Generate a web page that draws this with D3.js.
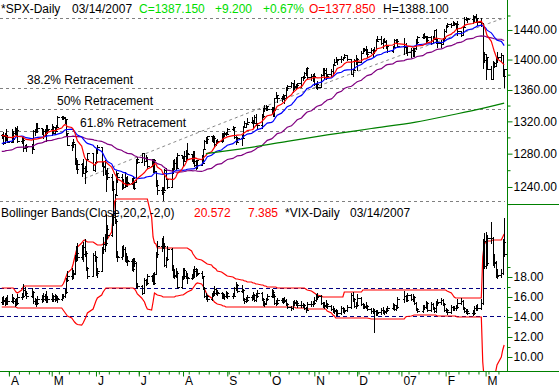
<!DOCTYPE html>
<html>
<head>
<meta charset="utf-8">
<script src="https://cdn.jsdelivr.net/npm/d3@7"></script>
<style>
  body { margin: 0; background: #fff; }
  svg { display: block; font-family: Arial, "Liberation Sans", sans-serif; font-size: 12px; }
</style>
</head>
<body>
<svg width="559" height="389"></svg>
<script>
// trading days: weekdays between the two dates, minus market holidays
const firstDay = "2006-03-27", lastDay = "2007-03-14";
const holidays = ["2006-04-14","2006-05-29","2006-07-04","2006-09-04","2006-11-23","2006-12-25","2007-01-01","2007-01-02","2007-01-15","2007-02-19"];

// SPX closes before the visible window (only feed the moving averages)
const spxPrior = [1287.6,1282.9,1277.9,1285.0,1261.5,1263.8,1266.9,1264.7,1273.8,1283.7,1285.2,1280.1,
  1282.5,1270.8,1264.0,1265.0,1254.8,1265.7,1263.8,1267.0,1262.9,1275.5,1280.0,1289.4,1287.2,1283.0,1292.7,1287.8,1289.4,1294.1,1280.7,
  1291.2,1289.1,1287.2,1278.3,1275.9,1278.5,1272.2,1281.4,1284.1,1297.5,1303.0,1305.3,1307.3,1305.1,1297.2,1305.0,1301.7,1302.95];

const spxOpen = [1302.9,1301.6,1293.2,1302.9,1300.3,1294.9,1297.8,1305.9,1311.6,1309.0,
  1295.5,1296.6,1286.6,1288.1,1289.1,1285.3,1307.3,1309.9,1311.5,1311.3,
  1308.1,1301.7,1305.4,1309.7,1310.6,1305.2,1313.2,1308.1,1312.3,1325.8,
  1324.7,1325.1,1322.9,1305.9,1291.2,1294.5,1292.1,1270.3,1261.8,1267.0,
  1262.1,1256.6,1258.6,1272.9,1280.2,1259.9,1270.1,1285.7,1288.2,1265.3,
  1263.9,1257.9,1256.2,1252.3,1237.4,1223.7,1230.0,1256.2,1251.5,1240.1,
  1240.1,1252.2,1245.6,1244.5,1250.6,1239.2,1246.0,1272.9,1270.2,1280.2,
  1270.9,1274.1,1265.5,1267.3,1272.4,1258.6,1242.3,1236.2,1234.5,1236.9,
  1259.8,1249.1,1240.3,1260.9,1268.9,1268.4,1263.2,1278.6,1276.7,1270.9,
  1277.4,1280.3,1279.4,1275.8,1271.5,1265.9,1271.8,1266.7,1268.2,1285.6,
  1295.4,1297.5,1302.3,1297.5,1298.8,1292.0,1296.1,1295.1,1301.8,1304.3,
  1305.4,1303.8,1311.0,1313.3,1300.3,1294.0,1298.9,1299.5,1313.0,1318.1,
  1316.3,1319.7,1321.2,1317.6,1325.2,1318.0,1314.8,1326.4,1336.4,1336.6,
  1338.9,1335.9,1331.3,1334.1,1350.2,1353.2,1349.6,1350.7,1353.4,1349.9,
  1362.8,1365.6,1369.1,1364.1,1365.8,1366.9,1368.6,1377.0,1377.4,1382.2,
  1389.1,1377.3,1377.9,1377.9,1367.8,1367.3,1364.3,1379.8,1382.8,1385.7,
  1378.3,1380.9,1384.4,1393.2,1396.6,1399.8,1401.2,1400.5,1402.8,1406.1,
  1400.9,1381.4,1386.7,1399.5,1400.6,1396.7,1409.1,1414.8,1412.9,1407.3,
  1409.8,1413.0,1411.6,1413.2,1425.5,1427.1,1422.5,1425.6,1423.5,1418.3,
  1410.8,1416.9,1426.8,1424.7,1418.3,1416.6,1418.3,1409.7,1412.8,1412.1,
  1414.9,1423.8,1430.7,1431.9,1430.6,1426.4,1430.5,1422.9,1427.9,1440.1,
  1423.9,1422.2,1420.6,1428.8,1438.2,1445.9,1448.4,1447.0,1448.0,1450.0,
  1448.3,1438.1,1433.4,1444.3,1455.3,1456.8,1455.5,1459.7,1457.6,1456.4,
  1451.2,1449.4,1399.0,1406.8,1403.2,1387.2,1374.1,1395.4,1392.0,1401.9,
  1402.8,1406.6,1377.85];

const spxHigh = [1303.7,1306.2,1305.6,1310.2,1303.0,1309.9,1307.6,1312.8,1311.9,1314.1,
  1300.7,1300.7,1290.9,1292.1,1292.1,1309.0,1310.4,1318.2,1317.7,1311.3,
  1310.8,1310.9,1315.0,1316.0,1317.2,1313.7,1313.5,1315.1,1326.5,1326.7,
  1326.6,1325.1,1322.9,1305.9,1294.8,1297.9,1292.1,1274.9,1272.2,1268.8,
  1273.7,1264.5,1273.3,1280.5,1280.2,1270.3,1285.7,1290.7,1288.2,1269.9,
  1272.5,1259.9,1262.6,1255.2,1247.1,1231.5,1258.6,1256.3,1255.9,1249.0,
  1257.9,1252.2,1253.1,1250.9,1253.4,1247.1,1272.9,1276.3,1280.4,1280.2,
  1278.3,1275.4,1274.1,1273.3,1273.3,1258.6,1247.7,1240.1,1239.9,1261.8,
  1262.6,1250.0,1262.5,1272.4,1273.9,1275.9,1280.4,1278.6,1276.7,1283.4,
  1283.9,1292.9,1279.4,1282.8,1283.8,1272.5,1271.8,1278.9,1286.2,1296.2,
  1300.8,1302.3,1302.3,1302.5,1301.9,1297.2,1297.6,1305.0,1305.0,1306.7,
  1306.8,1312.0,1314.7,1313.3,1301.2,1300.1,1302.4,1314.3,1319.9,1318.1,
  1324.7,1325.9,1322.0,1328.5,1329.2,1318.0,1329.4,1336.6,1340.1,1340.3,
  1339.2,1338.5,1338.3,1350.2,1357.4,1353.2,1352.7,1354.2,1353.6,1363.8,
  1366.6,1370.2,1369.1,1372.9,1368.1,1368.7,1377.4,1377.8,1383.6,1389.4,
  1389.5,1381.2,1381.2,1381.9,1368.4,1371.7,1381.4,1388.2,1388.6,1388.9,
  1381.3,1387.6,1394.5,1401.4,1403.8,1401.2,1404.4,1403.5,1407.9,1406.1,
  1400.9,1387.6,1401.0,1406.3,1402.5,1411.2,1415.3,1415.9,1418.3,1414.1,
  1415.6,1413.8,1416.6,1427.2,1431.6,1431.8,1428.3,1429.0,1426.4,1418.8,
  1417.9,1427.7,1427.3,1427.0,1429.4,1421.8,1418.3,1415.0,1415.6,1415.0,
  1427.1,1431.2,1433.9,1435.3,1432.0,1431.6,1431.4,1431.3,1440.1,1440.7,
  1427.3,1426.9,1428.8,1441.6,1446.6,1449.3,1449.4,1452.0,1451.6,1450.0,
  1452.9,1439.1,1444.4,1457.7,1458.0,1456.8,1460.5,1459.7,1461.6,1456.4,
  1457.0,1449.4,1409.8,1406.8,1403.2,1391.9,1397.9,1396.3,1402.2,1410.1,
  1409.3,1406.6,1388.1];

const spxLow = [1299.1,1291.8,1293.2,1296.7,1294.1,1294.9,1294.7,1304.8,1302.4,1294.2,
  1293.2,1282.9,1286.5,1283.4,1280.7,1285.3,1302.8,1306.4,1306.6,1303.8,
  1299.2,1301.7,1295.6,1306.2,1303.5,1305.2,1303.9,1307.9,1312.3,1322.9,
  1322.5,1317.4,1303.5,1290.4,1284.5,1288.5,1267.8,1261.8,1256.3,1252.9,
  1256.2,1245.3,1258.4,1272.5,1259.9,1259.4,1269.2,1280.2,1264.9,1254.8,
  1255.8,1235.2,1250.0,1236.4,1219.3,1219.3,1230.0,1246.3,1237.2,1238.9,
  1240.1,1241.4,1241.4,1243.7,1238.9,1237.6,1246.0,1269.0,1270.2,1265.9,
  1270.9,1263.1,1264.5,1257.9,1257.9,1241.4,1231.2,1231.5,1224.5,1236.9,
  1249.1,1238.9,1240.3,1257.2,1261.9,1261.9,1263.2,1274.3,1265.7,1270.9,
  1271.3,1273.8,1271.4,1268.4,1264.7,1261.3,1262.1,1266.7,1268.2,1285.6,
  1292.7,1293.6,1295.5,1294.4,1289.6,1290.9,1293.1,1293.9,1295.3,1302.2,
  1302.4,1303.8,1308.8,1299.3,1292.1,1293.8,1290.9,1299.5,1313.0,1313.3,
  1316.3,1318.1,1312.5,1317.6,1315.4,1310.9,1311.3,1325.3,1333.5,1333.8,
  1333.8,1330.3,1327.1,1327.1,1350.2,1344.2,1346.1,1348.6,1343.4,1349.9,
  1360.5,1364.5,1356.9,1360.9,1360.9,1362.1,1363.6,1372.4,1376.0,1379.5,
  1375.9,1373.5,1372.2,1366.0,1362.2,1360.9,1364.3,1379.2,1375.9,1374.7,
  1375.3,1378.8,1379.1,1393.1,1396.6,1394.6,1397.2,1399.0,1402.3,1399.6,
  1381.4,1377.8,1386.7,1393.8,1385.9,1396.7,1408.8,1411.1,1406.8,1403.7,
  1408.6,1404.8,1408.8,1413.2,1425.5,1420.7,1414.9,1423.0,1415.9,1410.3,
  1410.5,1416.6,1422.1,1418.3,1407.9,1408.4,1405.8,1404.0,1405.4,1405.4,
  1414.8,1422.1,1428.6,1428.6,1424.2,1425.2,1420.4,1421.7,1427.9,1422.3,
  1417.0,1416.8,1420.6,1424.8,1437.9,1444.5,1443.9,1446.4,1446.2,1442.8,
  1433.4,1431.4,1433.2,1443.9,1453.2,1450.5,1449.2,1452.0,1450.5,1447.5,
  1445.5,1389.4,1396.5,1374.8,1386.9,1374.0,1374.1,1390.0,1392.0,1397.3,
  1398.4,1377.7,1364.0];

const spxClose = [1301.6,1293.2,1302.9,1300.3,1294.9,1297.8,1305.9,1311.6,1309.0,1295.5,
  1296.6,1286.6,1288.1,1289.1,1285.3,1307.3,1309.9,1311.5,1311.3,1308.1,
  1301.7,1305.4,1309.7,1310.6,1305.2,1313.2,1308.1,1312.3,1325.8,1324.7,
  1325.1,1322.9,1305.9,1291.2,1294.5,1292.1,1270.3,1261.8,1267.0,1262.1,
  1256.6,1258.6,1272.9,1280.2,1259.9,1270.1,1285.7,1288.2,1265.3,1263.9,
  1257.9,1256.2,1252.3,1237.4,1223.7,1230.0,1256.2,1251.5,1240.1,1240.1,
  1252.2,1245.6,1244.5,1250.6,1239.2,1246.0,1272.9,1270.2,1280.2,1270.9,
  1274.1,1265.5,1267.3,1272.4,1258.6,1242.3,1236.2,1234.5,1236.9,1259.8,
  1249.1,1240.3,1260.9,1268.9,1268.4,1263.2,1278.6,1276.7,1270.9,1277.4,
  1280.3,1279.4,1275.8,1271.5,1265.9,1271.8,1266.7,1268.2,1285.6,1295.4,
  1297.5,1302.3,1297.5,1298.8,1292.0,1296.1,1295.1,1301.8,1304.3,1305.4,
  1303.8,1311.0,1313.3,1300.3,1294.0,1298.9,1299.5,1313.0,1318.1,1316.3,
  1319.7,1321.2,1317.6,1325.2,1318.0,1314.8,1326.4,1336.4,1336.6,1338.9,
  1335.9,1331.3,1334.1,1350.2,1353.2,1349.6,1350.7,1353.4,1349.9,1362.8,
  1365.6,1369.1,1364.1,1365.8,1366.9,1368.6,1377.0,1377.4,1382.2,1389.1,
  1377.3,1377.9,1377.9,1367.8,1367.3,1364.3,1379.8,1382.8,1385.7,1378.3,
  1380.9,1384.4,1393.2,1396.6,1399.8,1401.2,1400.5,1402.8,1406.1,1400.9,
  1381.4,1386.7,1399.5,1400.6,1396.7,1409.1,1414.8,1412.9,1407.3,1409.8,
  1413.0,1411.6,1413.2,1425.5,1427.1,1422.5,1425.6,1423.5,1418.3,1410.8,
  1416.9,1426.8,1424.7,1418.3,1416.6,1418.3,1409.7,1412.8,1412.1,1414.9,
  1423.8,1430.7,1431.9,1430.6,1426.4,1430.5,1422.9,1427.9,1440.1,1423.9,
  1422.2,1420.6,1428.8,1438.2,1445.9,1448.4,1447.0,1448.0,1450.0,1448.3,
  1438.1,1433.4,1444.3,1455.3,1456.8,1455.5,1459.7,1457.6,1456.4,1451.2,
  1449.4,1399.0,1406.8,1403.2,1387.2,1374.1,1395.4,1392.0,1401.9,1402.8,
  1406.6,1378.0,1387.15];

// 200-day average: [bar index, value]
const ma200 = [[100,1280],[120,1287],[140,1295],[160,1303],[180,1311],[200,1319],[216,1328],[230,1336],[242,1343]];

// Fibonacci retracement between these two levels
const fibHigh = 1456.6, fibLow = 1223.6;
const fibRatios = [0, 0.382, 0.5, 0.618, 1];
const fibNames = ["", "38.2% Retracement", "50% Retracement", "61.8% Retracement", ""];
// dashed trend line: two anchor points (date, value)
const trendLine = [["2006-05-24", 1250], ["2007-03-16", 1458]];

// VIX panel, values read against the panel's own axis
const vixOpen = [15.5,15.6,15.7,15.5,15.6,15.6,15.9,15.6,15.4,15.4,
  16.0,16.1,16.7,16.4,16.1,16.5,15.6,15.5,15.4,15.8,
  15.8,16.1,16.1,15.8,15.8,16.1,15.8,16.1,15.9,15.8,
  16.1,16.1,16.5,17.7,18.1,18.3,18.4,19.9,20.4,20.0,
  20.3,21.0,20.4,18.9,18.1,20.2,20.0,18.4,18.6,20.8,
  21.3,21.4,22.8,22.2,24.0,24.4,23.6,20.1,20.0,20.8,
  20.8,19.9,19.7,19.6,18.8,19.6,19.4,17.1,17.1,16.4,
  17.7,17.4,18.1,17.8,17.4,18.3,20.3,21.1,21.4,21.1,
  19.2,19.8,20.8,18.8,18.1,18.2,18.4,17.0,17.9,18.7,
  18.1,18.0,17.9,18.1,18.6,18.8,18.3,18.4,18.1,16.9,
  16.1,16.1,15.8,16.3,16.4,16.8,16.5,16.4,16.1,16.1,
  16.1,16.4,16.1,16.1,16.9,17.2,16.6,16.7,15.8,15.6,
  15.7,16.0,16.0,16.2,15.7,16.1,16.4,15.8,15.3,15.4,
  15.8,16.1,16.5,16.1,15.4,15.4,15.7,15.8,15.6,15.7,
  15.3,15.0,14.9,15.4,15.5,15.4,15.2,15.2,15.2,14.9,
  14.7,15.3,15.3,15.4,15.7,16.0,16.1,15.4,15.2,15.1,
  15.3,15.1,14.8,14.7,14.6,14.4,14.4,14.9,14.6,14.7,
  15.0,16.2,15.8,15.1,15.2,15.9,15.3,15.0,15.1,15.1,
  14.8,14.6,14.6,14.6,14.4,14.5,14.7,14.6,14.5,14.7,
  14.9,15.2,14.8,15.0,15.8,16.1,15.7,16.2,15.8,16.0,
  15.4,14.8,14.6,15.0,15.0,15.4,14.7,15.3,14.9,14.6,
  15.4,15.5,15.7,15.3,14.7,14.7,14.5,15.0,14.9,14.9,
  15.0,15.4,15.6,14.9,14.6,14.6,14.4,14.4,14.9,14.9,
  14.9,15.4,21.6,19.1,19.4,21.9,21.9,19.4,19.5,18.1,
  18.2,18.4,21.5];

const vixHigh = [16.0,16.1,15.9,16.0,16.2,16.3,16.0,15.8,15.9,16.3,
  16.4,17.3,17.0,16.6,16.9,16.6,15.9,15.8,16.1,16.2,
  16.4,16.3,16.6,16.1,16.4,16.2,16.3,16.2,16.0,16.3,
  16.3,16.8,17.9,18.6,18.9,18.7,20.2,21.1,21.4,21.2,
  21.5,21.8,20.6,19.0,20.4,20.6,20.1,18.9,21.0,22.0,
  22.3,24.3,23.2,24.3,26.4,25.2,23.8,20.6,21.1,21.2,
  21.0,20.4,20.1,19.8,19.9,19.9,19.5,17.4,17.2,17.9,
  17.8,18.3,18.2,18.4,18.5,20.5,21.6,21.9,22.1,21.3,
  20.0,21.1,20.9,19.2,18.7,18.9,18.6,18.1,18.9,18.9,
  18.6,18.4,18.3,18.8,19.1,18.9,18.8,18.6,18.1,17.0,
  16.4,16.2,16.4,16.6,17.1,16.9,16.7,16.5,16.4,16.3,
  16.6,16.5,16.4,17.0,17.5,17.3,17.2,16.8,15.9,16.0,
  16.2,16.2,16.5,16.3,16.4,16.7,16.5,15.9,15.6,15.9,
  16.3,16.8,16.7,16.3,15.7,15.9,15.9,15.9,16.0,15.8,
  15.4,15.1,15.6,15.7,15.7,15.6,15.6,15.4,15.3,15.0,
  15.5,15.6,15.6,16.0,16.3,16.4,16.2,15.5,15.5,15.7,
  15.4,15.2,15.1,14.9,14.8,14.7,15.1,15.0,14.9,15.2,
  16.4,16.5,15.9,15.5,16.3,16.0,15.4,15.3,15.5,15.2,
  14.9,14.9,14.8,14.7,14.7,14.9,15.0,14.7,14.9,15.1,
  15.4,15.3,15.2,16.0,16.6,16.2,16.4,16.3,16.3,16.1,
  15.5,14.9,15.2,15.2,15.6,15.5,15.5,15.4,15.0,15.6,
  15.8,15.9,15.8,15.4,14.9,14.8,15.2,15.1,15.1,15.2,
  15.8,15.9,15.7,15.0,14.8,14.8,14.7,15.1,15.2,15.3,
  15.8,21.8,22.4,22.5,22.2,23.5,22.0,20.3,19.6,18.8,
  18.8,21.8,23.9];

const vixLow = [15.3,15.3,15.2,15.3,15.3,15.5,15.4,15.1,15.2,15.3,
  15.8,16.0,16.2,15.9,16.0,15.4,15.3,15.1,15.3,15.5,
  15.6,15.7,15.5,15.5,15.6,15.6,15.6,15.7,15.5,15.7,
  15.9,16.0,16.4,17.6,17.8,17.9,18.3,19.6,19.7,19.8,
  19.6,20.1,18.7,17.9,18.1,19.6,18.2,18.0,18.6,20.4,
  20.6,21.2,21.9,22.1,23.2,23.4,20.0,19.6,19.8,20.1,
  19.6,19.5,19.2,18.7,18.6,19.1,17.0,16.9,16.3,16.4,
  17.2,17.3,17.6,17.3,17.3,18.3,20.0,20.6,20.9,19.1,
  19.0,19.7,18.7,18.0,17.9,18.0,16.9,16.9,17.8,18.0,
  17.9,17.4,17.8,17.9,18.0,18.1,18.2,17.9,16.8,16.0,
  15.8,15.6,15.7,16.1,16.2,16.3,16.2,15.9,15.9,15.8,
  16.0,15.9,15.9,16.1,16.7,16.5,16.5,15.7,15.4,15.5,
  15.6,15.7,15.8,15.6,15.6,16.0,15.7,15.2,15.1,15.3,
  15.7,16.0,16.0,15.3,15.2,15.3,15.5,15.4,15.5,15.2,
  14.9,14.7,14.8,15.2,15.2,15.0,15.0,15.0,14.8,14.5,
  14.7,15.1,15.1,15.3,15.6,15.8,15.3,15.0,14.9,15.0,
  14.9,14.7,14.5,14.4,14.2,14.2,14.3,14.5,14.4,14.6,
  14.9,15.6,15.0,14.9,15.1,15.2,14.9,14.9,14.9,14.7,
  14.4,14.4,12.5,14.2,14.2,14.3,14.4,14.3,14.4,14.6,
  14.8,14.7,14.7,14.9,15.5,15.6,15.6,15.7,15.6,15.3,
  14.7,14.5,14.5,14.8,14.9,14.6,14.6,14.8,14.5,14.5,
  15.2,15.3,15.2,14.6,14.5,14.3,14.4,14.7,14.7,14.7,
  14.9,15.3,14.8,14.5,14.4,14.3,14.2,14.3,14.7,14.7,
  14.8,15.3,18.9,18.9,19.2,21.4,19.2,19.0,18.0,17.9,
  18.0,18.3,20.1];

const vixClose = [15.6,15.7,15.5,15.6,15.6,15.9,15.6,15.4,15.4,16.0,
  16.1,16.7,16.4,16.1,16.5,15.6,15.5,15.4,15.8,15.8,
  16.1,16.1,15.8,15.8,16.1,15.8,16.1,15.9,15.8,16.1,
  16.1,16.5,17.7,18.1,18.3,18.4,19.9,20.4,20.0,20.3,
  21.0,20.4,18.9,18.1,20.2,20.0,18.4,18.6,20.8,21.3,
  21.4,22.8,22.2,24.0,24.4,23.6,20.1,20.0,20.8,20.8,
  19.9,19.7,19.6,18.8,19.6,19.4,17.1,17.1,16.4,17.7,
  17.4,18.1,17.8,17.4,18.3,20.3,21.1,21.4,21.1,19.2,
  19.8,20.8,18.8,18.1,18.2,18.4,17.0,17.9,18.7,18.1,
  18.0,17.9,18.1,18.6,18.8,18.3,18.4,18.1,16.9,16.1,
  16.1,15.8,16.3,16.4,16.8,16.5,16.4,16.1,16.1,16.1,
  16.4,16.1,16.1,16.9,17.2,16.6,16.7,15.8,15.6,15.7,
  16.0,16.0,16.2,15.7,16.1,16.4,15.8,15.3,15.4,15.8,
  16.1,16.5,16.1,15.4,15.4,15.7,15.8,15.6,15.7,15.3,
  15.0,14.9,15.4,15.5,15.4,15.2,15.2,15.2,14.9,14.7,
  15.3,15.3,15.4,15.7,16.0,16.1,15.4,15.2,15.1,15.3,
  15.1,14.8,14.7,14.6,14.4,14.4,14.9,14.6,14.7,15.0,
  16.2,15.8,15.1,15.2,15.9,15.3,15.0,15.1,15.1,14.8,
  14.6,14.6,14.6,14.4,14.5,14.7,14.6,14.5,14.7,14.9,
  15.2,14.8,15.0,15.8,16.1,15.7,16.2,15.8,16.0,15.4,
  14.8,14.6,15.0,15.0,15.4,14.7,15.3,14.9,14.6,15.4,
  15.5,15.7,15.3,14.7,14.7,14.5,15.0,14.9,14.9,15.0,
  15.4,15.6,14.9,14.6,14.6,14.4,14.4,14.9,14.9,14.9,
  15.4,21.6,19.1,19.4,21.9,21.9,19.4,19.5,18.1,18.2,
  18.4,21.5,20.3];

// Bollinger bands
const bbUpper = [16.9,16.9,16.9,16.9,16.9,16.9,16.9,16.7,16.5,16.4,
  16.7,17.0,17.1,17.1,17.1,17.1,17.1,17.1,17.1,17.1,
  17.1,17.1,17.1,17.1,17.1,17.1,17.1,17.1,17.1,17.1,
  17.3,17.6,18.0,18.4,18.8,19.3,19.9,20.5,21.0,21.4,
  21.6,21.7,21.6,21.5,21.5,21.4,21.3,21.2,21.2,21.3,
  21.4,21.6,21.8,22.5,24.0,25.5,25.8,25.8,25.8,25.8,
  25.8,25.8,25.8,25.8,25.8,25.8,25.8,25.8,25.8,25.8,
  25.8,25.8,24.0,22.0,21.4,21.3,20.9,20.9,20.9,20.9,
  20.9,20.9,20.9,20.9,20.9,20.9,20.9,20.9,20.9,20.9,
  20.9,20.9,20.6,20.3,20.1,19.9,19.8,19.7,19.6,19.5,
  19.4,19.3,19.2,19.0,18.9,18.8,18.6,18.5,18.4,18.3,
  18.2,18.1,18.0,17.9,17.8,17.8,17.7,17.7,17.6,17.6,
  17.5,17.5,17.4,17.4,17.3,17.3,17.2,17.2,17.1,17.1,
  17.0,17.0,17.0,17.0,17.0,16.9,16.9,16.9,16.9,16.9,
  16.9,16.9,16.9,16.9,16.9,16.9,16.9,16.9,16.9,16.8,
  16.7,16.6,16.5,16.4,16.3,16.2,16.1,16.0,16.0,16.0,
  16.0,16.0,16.0,16.0,16.0,16.0,16.0,16.0,16.5,16.5,
  16.5,16.5,16.5,16.5,16.5,16.5,16.7,16.7,16.7,16.7,
  16.7,16.7,16.7,16.7,16.7,16.7,16.7,16.7,16.7,16.7,
  16.7,16.7,16.7,16.7,16.7,16.7,16.7,16.7,16.7,16.7,
  16.7,16.7,16.7,16.7,16.7,16.7,16.7,16.7,16.7,16.7,
  16.7,16.7,16.7,16.7,16.7,16.6,16.4,16.2,16.0,15.9,
  15.9,15.9,15.9,15.9,15.9,15.9,15.9,15.9,15.9,15.9,
  15.9,20.0,21.2,21.5,21.6,21.6,21.7,21.7,21.7,21.7,
  21.7,22.0,22.3];

const bbLower = [15.0,15.0,15.0,15.0,15.0,15.0,15.0,15.0,15.0,14.9,
  14.9,14.9,14.9,14.9,14.9,14.9,14.9,14.9,14.9,14.9,
  14.9,14.9,14.9,14.9,14.9,14.9,14.9,14.9,14.9,14.9,
  14.7,14.5,14.3,14.1,13.9,13.7,13.5,13.35,13.25,13.2,
  13.4,13.7,14.0,14.4,14.8,15.2,15.6,15.9,16.2,16.5,
  16.7,16.9,16.9,16.9,16.9,16.9,16.9,16.9,16.9,16.9,
  16.9,16.9,16.9,16.9,16.9,16.8,16.6,16.3,15.9,15.5,
  15.1,14.8,14.7,15.5,16.4,16.3,16.2,16.1,16.0,16.0,
  16.0,16.0,16.0,16.0,16.0,16.1,16.1,16.2,16.2,16.3,
  16.4,16.5,16.7,16.9,17.1,17.3,17.4,17.3,17.1,16.8,
  16.5,16.2,15.9,15.7,15.5,15.4,15.3,15.2,15.1,15.1,
  15.0,15.0,15.0,15.0,15.0,15.0,15.0,15.0,15.0,15.0,
  15.0,15.0,15.0,15.0,15.0,15.0,15.0,15.0,15.0,15.0,
  15.0,15.0,15.0,15.0,15.0,15.0,15.0,15.0,15.0,15.0,
  15.0,15.0,15.0,15.0,14.9,14.9,14.9,14.9,14.9,14.8,
  14.8,14.8,14.8,14.8,14.8,14.8,14.8,14.8,14.8,14.8,
  14.6,14.4,14.2,14.1,13.9,13.9,13.9,13.9,13.9,13.9,
  13.9,13.9,13.9,13.9,13.9,13.9,13.9,13.9,13.9,13.9,
  13.8,13.8,13.8,13.8,13.8,13.8,13.8,13.8,13.8,13.8,
  13.8,13.8,13.8,13.8,13.8,14.0,14.05,14.1,14.15,14.2,
  14.2,14.2,14.2,14.2,14.2,14.2,14.2,14.2,14.2,14.2,
  14.1,14.1,14.1,14.1,14.1,14.1,14.1,14.1,14.1,14.1,
  14.0,14.0,14.0,14.0,14.0,14.0,14.0,14.0,14.0,14.0,
  14.0,9.5,7.8,7.2,6.8,6.9,7.3,7.9,8.5,9.2,
  10.0,10.7,11.2];

const vixLevels = [16.87, 14.07];

// axis ticks and labels
const priceTicks = [1240, 1280, 1320, 1360, 1400, 1440];
const priceMinor = [1220, 1260, 1300, 1340, 1380, 1420, 1460];
const vixTicks = [10, 12, 14, 16, 18];
const vixMinor = [11, 13, 15, 17, 19];
const monthLabels = ["A", "M", "J", "J", "A", "S", "O", "N", "D", "07", "F", "M"];

const header = [
  { text: "*SPX-Daily", x: 1, color: "#000" },
  { text: "03/14/2007", x: 72, color: "#000" },
  { text: "C=1387.150", x: 139, color: "#00dd00" },
  { text: "+9.200", x: 215, color: "#00dd00" },
  { text: "+0.67%", x: 263, color: "#00dd00" },
  { text: "O=1377.850", x: 309, color: "#ff0000" },
  { text: "H=1388.100", x: 383, color: "#000" }
];
const legend = [
  { text: "Bollinger Bands(Close,20,2,-2,0)", x: 1, color: "#000" },
  { text: "20.572", x: 194, color: "#ff0000" },
  { text: "7.385", x: 248, color: "#ff0000" },
  { text: "*VIX-Daily", x: 285, color: "#000" },
  { text: "03/14/2007", x: 350, color: "#000" }
];

window.onload = () => {
  const svg = d3.select("svg");
  const width = 559, plotRight = 507, splitY = 204, bottomY = 371;
  const axisGreen = "#008000";

  const parse = d3.timeParse("%Y-%m-%d");
  const fmt = d3.timeFormat("%Y-%m-%d");
  const holidaySet = new Set(holidays);
  const days = d3.timeDay.range(parse(firstDay), d3.timeDay.offset(parse(lastDay), 1))
    .filter(d => d.getDay() !== 0 && d.getDay() !== 6 && !holidaySet.has(fmt(d)));

  // calendar time axis
  const x = d3.scaleTime()
    .domain([parse("2006-04-01"), parse("2007-03-01")])
    .range([8.9, 485.6]);

  const yTop = d3.scaleLog().domain([1220.08, 1481.7]).range([splitY, 0]);
  const yVix = d3.scaleLinear().domain([8.6, 25.3]).range([bottomY, splitY]);

  const px = v => Math.round(v) + 0.5;

  // fibonacci retracement lines (evenly spaced on the log axis)
  const fibLevels = fibRatios.map(f => Math.exp(Math.log(fibHigh) - f * (Math.log(fibHigh) - Math.log(fibLow))));
  const gFib = svg.append("g");
  gFib.selectAll("line").data(fibLevels).join("line")
    .attr("x1", 0).attr("x2", 505)
    .attr("y1", d => px(yTop(d))).attr("y2", d => px(yTop(d)))
    .attr("stroke", "#808080").attr("stroke-dasharray", "3,3");
  gFib.selectAll("text").data(fibLevels).join("text")
    .attr("x", (d, i) => [0, 27, 57, 80, 0][i])
    .attr("y", d => yTop(d) - 4)
    .text((d, i) => fibNames[i]);

  // dashed trend line, straight in price terms
  const t0 = parse(trendLine[0][0]), t1 = parse(trendLine[1][0]);
  const v0 = trendLine[0][1], v1 = trendLine[1][1];
  const trendPts = d3.timeDay.range(t0, d3.timeDay.offset(t1, 1)).map(d =>
    [x(d), yTop(v0 + (v1 - v0) * (d - t0) / (t1 - t0))]);
  svg.append("path")
    .attr("d", d3.line()(trendPts.filter(p => p[0] <= 505)))
    .attr("fill", "none").attr("stroke", "#808080").attr("stroke-dasharray", "3,3");

  // OHLC bars
  function drawBars(o, h, l, c, y) {
    svg.append("g").selectAll("path").data(days).join("path")
      .attr("d", (d, i) => {
        const X = px(x(d));
        return `M${X},${Math.round(y(h[i]))}V${Math.round(y(l[i])) + 1}` +
          `M${X - 2},${px(y(o[i]))}H${X}M${X},${px(y(c[i]))}H${X + 2}`;
      })
      .attr("fill", "none").attr("stroke", "#000").attr("stroke-width", 1)
      .attr("shape-rendering", "crispEdges");
  }
  drawBars(spxOpen, spxHigh, spxLow, spxClose, yTop);

  // moving averages
  function sma(prior, vals, n) {
    const all = prior.concat(vals);
    return vals.map((_, i) => d3.mean(all.slice(prior.length + i - n + 1, prior.length + i + 1)));
  }
  const lineTop = d3.line().x((d, i) => x(days[i])).y(v => yTop(v));
  const maSpecs = [[50, "#800080"], [20, "#0000ff"], [10, "#ff0000"]];
  maSpecs.forEach(([n, col]) => {
    svg.append("path").attr("d", lineTop(sma(spxPrior, spxClose, n)))
      .attr("fill", "none").attr("stroke", col).attr("stroke-width", 1.2);
  });
  svg.append("path")
    .attr("d", d3.line().curve(d3.curveMonotoneX).x(d => x(days[d[0]])).y(d => yTop(d[1]))(ma200))
    .attr("fill", "none").attr("stroke", axisGreen).attr("stroke-width", 1.2);

  // lower panel
  svg.append("defs").append("clipPath").attr("id", "lowClip")
    .append("rect").attr("x", 0).attr("y", 180).attr("width", plotRight).attr("height", bottomY - 180);
  const gLow = svg.append("g").attr("clip-path", "url(#lowClip)");
  gLow.selectAll("line.lvl").data(vixLevels).join("line").attr("class", "lvl")
    .attr("x1", 0).attr("x2", 505)
    .attr("y1", d => px(yVix(d))).attr("y2", d => px(yVix(d)))
    .attr("stroke", "#000080").attr("stroke-dasharray", "4,3");
  const lineLow = d3.line().x((d, i) => x(days[i])).y(v => yVix(v));
  [bbUpper, bbLower].forEach(b => {
    gLow.append("path").attr("d", lineLow(b))
      .attr("fill", "none").attr("stroke", "#ff0000").attr("stroke-width", 1.2);
  });
  drawBars(vixOpen, vixHigh, vixLow, vixClose, yVix);

  // frame and axes
  const frame = svg.append("g").attr("stroke", axisGreen).attr("shape-rendering", "crispEdges");
  frame.append("line").attr("x1", plotRight + 0.5).attr("x2", plotRight + 0.5).attr("y1", 0).attr("y2", bottomY);
  frame.append("line").attr("x1", plotRight).attr("x2", width).attr("y1", splitY + 0.5).attr("y2", splitY + 0.5);
  frame.append("line").attr("x1", 0).attr("x2", width).attr("y1", bottomY + 0.5).attr("y2", bottomY + 0.5);

  function rightAxis(scale, major, minor) {
    const g = svg.append("g").attr("transform", `translate(${plotRight + 0.5},0)`);
    g.append("g").call(d3.axisRight(scale).tickValues(minor).tickSize(3).tickFormat(""));
    g.append("g").call(d3.axisRight(scale).tickValues(major).tickSize(5).tickPadding(1).tickFormat(d3.format(".2f")));
    g.selectAll(".domain").remove();
    g.selectAll(".tick line").attr("stroke", axisGreen);
    g.selectAll("text").attr("fill", "#000").attr("font-size", 12)
      .attr("font-family", "Arial, 'Liberation Sans', sans-serif");
  }
  rightAxis(yTop, priceTicks, priceMinor);
  rightAxis(yVix, vixTicks, vixMinor);

  const months = d3.timeMonth.range(parse("2006-04-01"), parse("2007-04-01"));
  const gx = svg.append("g").attr("transform", `translate(0,${bottomY + 0.5})`);
  gx.append("g").call(d3.axisBottom(x).tickValues(d3.timeSaturday.range(parse("2006-04-01"), parse("2007-03-20"))
    .filter(d => x(d) < plotRight)).tickSize(3).tickFormat(""));
  gx.append("g").call(d3.axisBottom(x).tickValues(months.filter(d => x(d) < plotRight))
    .tickSize(5).tickPadding(0).tickFormat((d, i) => monthLabels[i]));
  gx.selectAll(".domain").remove();
  gx.selectAll(".tick line").attr("stroke", axisGreen);
  gx.selectAll("text").attr("fill", "#000").attr("font-size", 12).attr("text-anchor", "start").attr("dx", 1.5)
    .attr("font-family", "Arial, 'Liberation Sans', sans-serif");

  // header and legend
  svg.append("g").selectAll("text").data(header).join("text")
    .attr("x", d => d.x).attr("y", 13).attr("fill", d => d.color).text(d => d.text);
  svg.append("g").selectAll("text").data(legend).join("text")
    .attr("x", d => d.x).attr("y", 217).attr("fill", d => d.color).text(d => d.text);
};
</script>
</body>
</html>
